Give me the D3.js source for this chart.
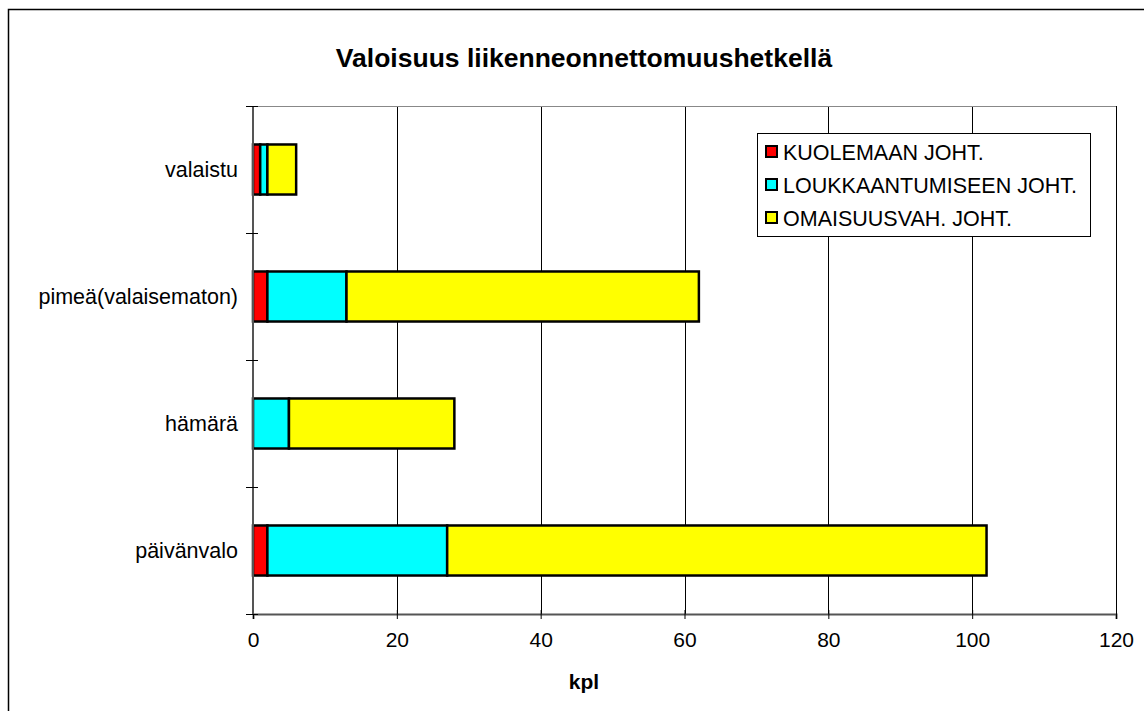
<!DOCTYPE html>
<html>
<head>
<meta charset="utf-8">
<script src="https://cdn.jsdelivr.net/npm/d3@7"></script>
<style>
  body { margin: 0; background: #fff; }
  text { font-family: "Liberation Sans", Arial, sans-serif; }
</style>
</head>
<body>
<div id="chart"></div>
<script>
// data
var categories = ["valaistu", "pimeä(valaisematon)", "hämärä", "päivänvalo"];
var seriesNames = ["KUOLEMAAN JOHT.", "LOUKKAANTUMISEEN JOHT.", "OMAISUUSVAH. JOHT."];
var seriesColors = ["#ff0000", "#00ffff", "#ffff00"];
var kuolemaan = [1, 2, 0, 2];
var loukkaantumiseen = [1, 11, 5, 25];
var omaisuusvah = [4, 49, 23, 75];
var xTicks = [0, 20, 40, 60, 80, 100, 120];

var W = 1144, H = 711;
var margin = { top: 106, left: 253, right: 28, bottom: 97 };
var plotW = 1116 - margin.left, plotH = 614 - margin.top;

var svg = d3.select("#chart").append("svg")
    .attr("width", W).attr("height", H);

// outer chart frame
svg.append("rect")
    .attr("x", 8.5).attr("y", 9.5)
    .attr("width", W + 20).attr("height", H + 20)
    .attr("fill", "none").attr("stroke", "#000").attr("stroke-width", 1.5);

svg.append("text")
    .attr("x", 584).attr("y", 67)
    .attr("text-anchor", "middle")
    .style("font-size", "26.5px").style("font-weight", "bold")
    .text("Valoisuus liikenneonnettomuushetkellä");

var g = svg.append("g")
    .attr("transform", "translate(" + margin.left + "," + margin.top + ")");

var x = d3.scaleLinear().domain([0, 120]).range([0, plotW]);
var y = d3.scaleBand().domain(categories).range([0, plotH])
    .paddingInner(0.606).paddingOuter(0.303);

// gridlines
g.selectAll(".grid").data(xTicks.slice(1)).enter().append("line")
    .attr("x1", function(d) { return Math.round(x(d)) + 0.5; })
    .attr("x2", function(d) { return Math.round(x(d)) + 0.5; })
    .attr("y1", 0).attr("y2", plotH)
    .attr("stroke", "#000").attr("stroke-width", 1);
g.append("line")
    .attr("x1", 0).attr("x2", plotW).attr("y1", 0.5).attr("y2", 0.5)
    .attr("stroke", "#888").attr("stroke-width", 1);

// stacked data
var rows = categories.map(function(c, i) {
    return { cat: c, v: [kuolemaan[i], loukkaantumiseen[i], omaisuusvah[i]] };
});
var segs = [];
rows.forEach(function(r) {
    var acc = 0;
    r.v.forEach(function(v, s) {
        if (v > 0) segs.push({ cat: r.cat, s: s, x0: acc, x1: acc + v });
        acc += v;
    });
});

g.selectAll(".seg").data(segs).enter().append("rect")
    .attr("x", function(d) { return x(d.x0); })
    .attr("y", function(d) { return y(d.cat); })
    .attr("width", function(d) { return x(d.x1) - x(d.x0); })
    .attr("height", y.bandwidth())
    .attr("fill", function(d) { return seriesColors[d.s]; })
    .attr("stroke", "#000").attr("stroke-width", 2.5);

// axes
var xAxis = g.append("g").attr("transform", "translate(0," + plotH + ")")
    .call(d3.axisBottom(x).tickValues(xTicks).tickSize(5).tickPadding(13));
xAxis.select(".domain").attr("stroke", "#555").attr("stroke-width", 2);
xAxis.selectAll(".tick line").attr("stroke", "#000").attr("y1", -4).attr("y2", 5);
xAxis.selectAll("text").style("font-size", "21px").attr("fill", "#000");

// y axis: ticks at band boundaries
g.append("line").attr("x1", 0).attr("x2", 0).attr("y1", 0).attr("y2", plotH)
    .attr("stroke", "#555").attr("stroke-width", 2);
var bounds = d3.range(categories.length + 1).map(function(i) { return i * y.step(); });
g.selectAll(".ytick").data(bounds).enter().append("line")
    .attr("x1", -7).attr("x2", 5)
    .attr("y1", function(d) { return Math.round(d) + 0.5; })
    .attr("y2", function(d) { return Math.round(d) + 0.5; })
    .attr("stroke", "#000");
g.selectAll(".ylab").data(categories).enter().append("text")
    .attr("x", -15)
    .attr("y", function(d) { return y(d) + y.bandwidth() / 2; })
    .attr("dy", "0.35em")
    .attr("text-anchor", "end")
    .style("font-size", "21.5px")
    .text(function(d) { return d; });

svg.append("text")
    .attr("x", 584).attr("y", 689)
    .attr("text-anchor", "middle")
    .style("font-size", "21px").style("font-weight", "bold")
    .text("kpl");

// legend
var lg = svg.append("g").attr("transform", "translate(757,133)");
lg.append("rect").attr("x", 0.5).attr("y", 0.5).attr("width", 333).attr("height", 103)
    .attr("fill", "#fff").attr("stroke", "#000").attr("stroke-width", 1);
var items = lg.selectAll(".item").data(seriesNames).enter().append("g")
    .attr("transform", function(d, i) { return "translate(0," + (19 + i * 33) + ")"; });
items.append("rect")
    .attr("x", 9).attr("y", -6).attr("width", 11).attr("height", 11)
    .attr("fill", function(d, i) { return seriesColors[i]; })
    .attr("stroke", "#000").attr("stroke-width", 2);
items.append("text")
    .attr("x", 26).attr("dy", "0.36em")
    .style("font-size", "21.5px")
    .text(function(d) { return d; });
</script>
</body>
</html>
